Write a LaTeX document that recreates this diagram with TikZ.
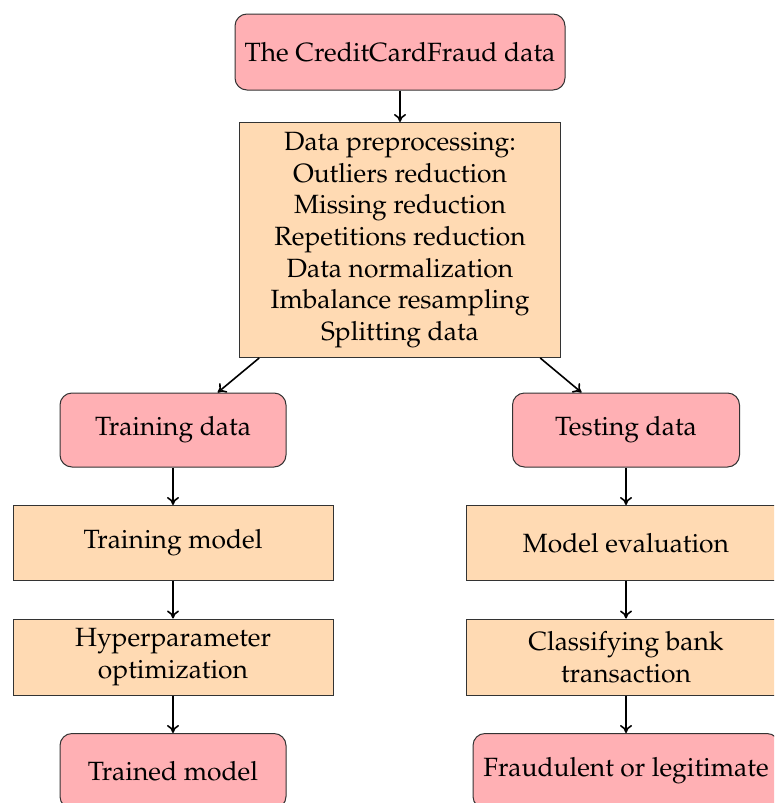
\documentclass[tikz,border=0pt]{standalone}
\usepackage[T1]{fontenc}
\usepackage{mathpazo}
\usetikzlibrary{arrows.meta}
\definecolor{datapink}{RGB}{255,176,180}
\definecolor{steppeach}{RGB}{255,218,179}
\tikzset{
  databox/.style={draw=black!80, fill=datapink, rounded corners=12pt, line width=1pt,
    align=center, inner sep=6pt},
  stepbox/.style={draw=black!80, fill=steppeach, line width=1pt, align=center, inner sep=6pt},
  flow/.style={-{To[length=8pt,width=12pt]}, line width=1.6pt},
}
\begin{document}
\begin{tikzpicture}[x=1pt,y=-1pt,font=\fontsize{26.4}{31.7}\selectfont]
\clip (0,0) rectangle (774,803);
\fill[white] (0,0) rectangle (774,803);

\node[databox, minimum width=330pt, minimum height=76pt] (src) at (400,52) {The CreditCardFraud data};
\node[stepbox, minimum width=321pt, minimum height=235pt] (prep) at (400,240)
  {Data preprocessing:\\Outliers reduction\\Missing reduction\\Repetitions reduction\\Data normalization\\Imbalance resampling\\Splitting data};

\node[databox, minimum width=226pt, minimum height=74pt] (train) at (173,430) {Training data};
\node[databox, minimum width=227pt, minimum height=74pt] (test) at (626,430) {Testing data};

\node[stepbox, minimum width=320pt, minimum height=75pt] (tmodel) at (173,543) {Training model};
\node[stepbox, minimum width=320pt, minimum height=75pt] (eval) at (626,543) {Model evaluation};

\node[stepbox, minimum width=320pt, minimum height=76pt] (hyper) at (173,657) {Hyperparameter\\optimization};
\node[stepbox, minimum width=320pt, minimum height=76pt] (classify) at (626,657) {Classifying bank\\transaction};

\node[databox, minimum width=226pt, minimum height=75pt] (trained) at (173,771) {Trained model};
\node[databox, minimum width=306pt, minimum height=75pt] (verdict) at (626,771) {Fraudulent or legitimate};

\draw[flow] (src) -- (prep);
\draw[flow] (prep) -- (train);
\draw[flow] (prep) -- (test);
\draw[flow] (train) -- (tmodel);
\draw[flow] (tmodel) -- (hyper);
\draw[flow] (hyper) -- (trained);
\draw[flow] (test) -- (eval);
\draw[flow] (eval) -- (classify);
\draw[flow] (classify) -- (verdict);
\end{tikzpicture}
\end{document}
